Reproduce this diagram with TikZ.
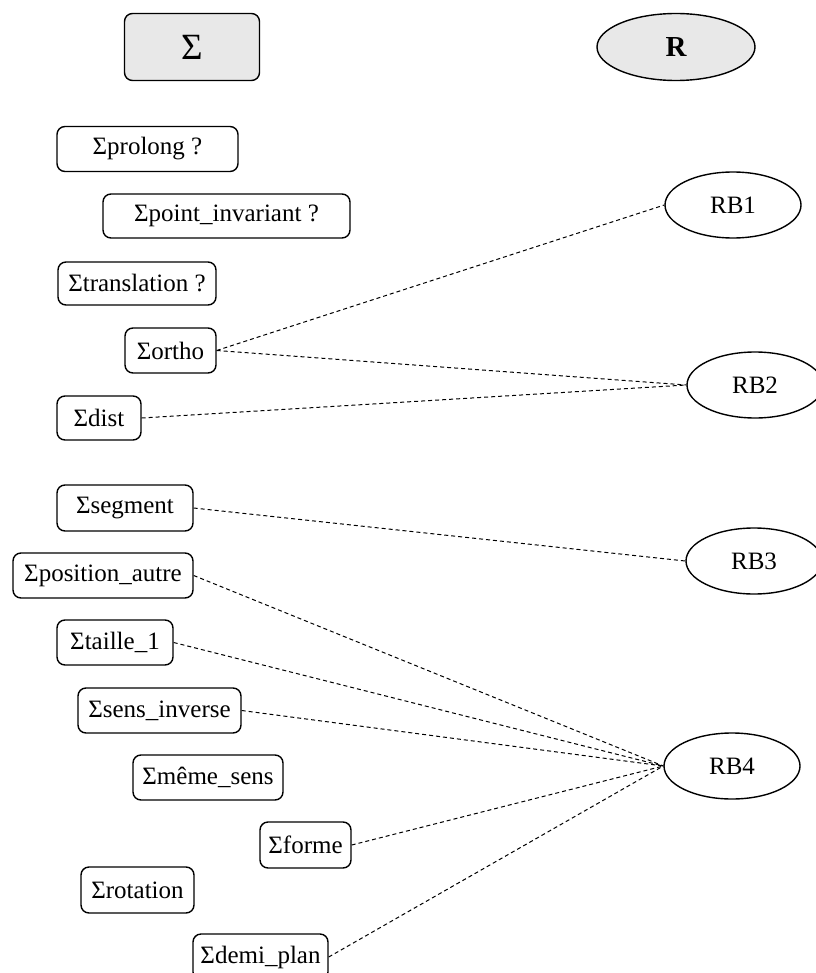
\documentclass[tikz,border=0pt]{standalone}
\usepackage{fontspec}
\setmainfont{Liberation Serif}
\usetikzlibrary{shapes.geometric}
\begin{document}
\begin{tikzpicture}[x=1pt,y=-1pt,
  sbox/.style={draw, line width=1.4pt, rounded corners=8pt, inner sep=0pt,
    minimum height=45pt, font=\fontsize{25}{29}\selectfont},
  rell/.style={draw, ellipse, line width=1.4pt, inner sep=0pt,
    minimum width=136pt, minimum height=66pt, font=\fontsize{25}{29}\selectfont},
  link/.style={dashed, line width=1pt, dash pattern=on 4pt off 3pt}]
\useasboundingbox (0,0) rectangle (815,973);
% headers
\node[sbox, fill=black!9, minimum width=135pt, minimum height=67pt,
  font=\fontsize{37}{41}\selectfont] (sig) at (192,47) {Σ};
\node[rell, fill=black!9, minimum width=158pt, minimum height=67pt,
  font=\fontsize{29}{33}\selectfont\bfseries] (R) at (676,47) {R};
% left boxes
\node[sbox, minimum width=181pt] (prolong) at (147.5,149) {Σprolong ?};
\node[sbox, minimum width=247pt, minimum height=44pt] (pinv) at (226.5,216) {Σpoint\_invariant ?};
\node[sbox, minimum width=158pt, minimum height=43pt] (transl) at (137,283.5) {Σtranslation ?};
\node[sbox, minimum width=91pt] (ortho) at (170.5,350.5) {Σortho};
\node[sbox, minimum width=84pt, minimum height=44pt] (dist) at (99,418) {Σdist};
\node[sbox, minimum width=136pt, minimum height=46pt] (segment) at (125,508) {Σsegment};
\node[sbox, minimum width=180pt] (posautre) at (103,575.5) {Σposition\_autre};
\node[sbox, minimum width=116pt] (taille) at (115,642.5) {Σtaille\_1};
\node[sbox, minimum width=163pt] (sensinv) at (159.5,710.5) {Σsens\_inverse};
\node[sbox, minimum width=150pt] (meme) at (208,777.5) {Σmême\_sens};
\node[sbox, minimum width=91pt, minimum height=46pt] (forme) at (305.5,845) {Σforme};
\node[sbox, minimum width=113pt, minimum height=46pt] (rotation) at (137.5,890) {Σrotation};
\node[sbox, minimum width=135pt, minimum height=46pt] (demi) at (260.5,957) {Σdemi\_plan};
% right ellipses
\node[rell] (RB1) at (733,205) {RB1};
\node[rell] (RB2) at (755,385) {RB2};
\node[rell] (RB3) at (754,561) {RB3};
\node[rell] (RB4) at (732,766) {RB4};
% links
\draw[link] (ortho.east) -- (RB1.west);
\draw[link] (ortho.east) -- (RB2.west);
\draw[link] (dist.east) -- (RB2.west);
\draw[link] (segment.east) -- (RB3.west);
\draw[link] (posautre.east) -- (RB4.west);
\draw[link] (taille.east) -- (RB4.west);
\draw[link] (sensinv.east) -- (RB4.west);
\draw[link] (forme.east) -- (RB4.west);
\draw[link] (demi.east) -- (RB4.west);
\end{tikzpicture}
\end{document}
